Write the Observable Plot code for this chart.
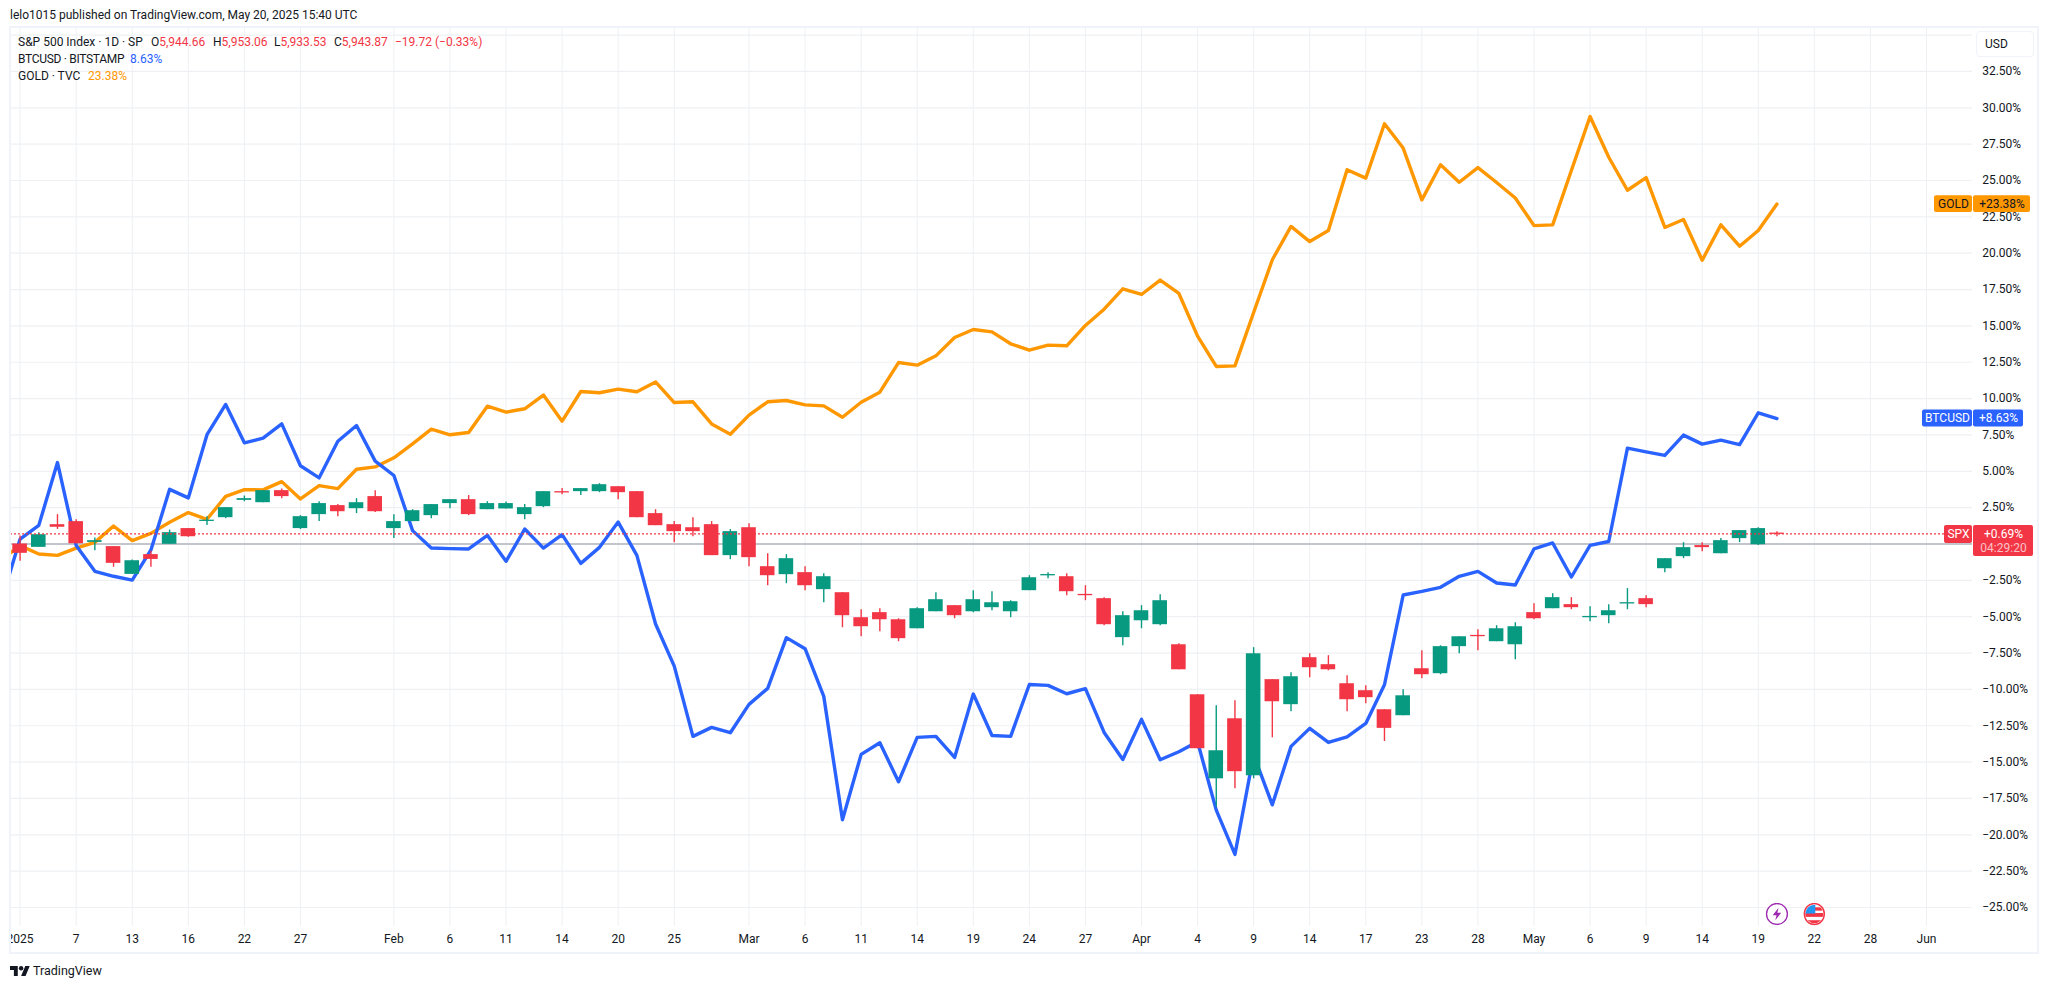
<!DOCTYPE html>
<html>
<head>
<meta charset="utf-8">
<script src="https://cdn.jsdelivr.net/npm/d3@7"></script>
<script src="https://cdn.jsdelivr.net/npm/@observablehq/plot@0.6"></script>
<style>
html,body{margin:0;padding:0;background:#fff;overflow:hidden}
body{width:2048px;height:989px;position:relative;font-family:Roboto,sans-serif;color:#131722}
#chart{position:absolute;left:0;top:0}
.txt{position:absolute;font-size:12px;white-space:nowrap;line-height:14px}
.box{position:absolute;box-sizing:border-box;pointer-events:none}
.r{color:#f23645}.b{color:#2962ff}.o{color:#ff9800}
.seg{position:absolute;top:0}
</style>
</head>
<body>
<div id="chart"></div>
<div class="box" style="left:0;top:27px;width:10px;height:926px;background:#fff"></div>
<div class="box" style="left:9px;top:26px;width:2030px;height:928px;border:2px solid #f0f3fa"></div>
<div class="box" style="left:1976px;top:31px;width:58px;height:26px;border:1.5px solid #f0f3fa;border-radius:4px;background:#fff"></div>
<div class="txt" style="left:1985px;top:37px;">USD</div>
<div class="txt" style="left:10px;top:8px">lelo1015 published on TradingView.com, May 20, 2025 15:40 UTC</div>
<div class="txt" style="left:18px;top:35px;width:480px;height:14px">
  <span class="seg" style="left:0">S&amp;P 500 Index · 1D · SP</span>
  <span class="seg" style="left:133px">O<span class="r">5,944.66</span></span>
  <span class="seg" style="left:195px">H<span class="r">5,953.06</span></span>
  <span class="seg" style="left:256px">L<span class="r">5,933.53</span></span>
  <span class="seg" style="left:316px">C<span class="r">5,943.87</span></span>
  <span class="seg r" style="left:377px">−19.72 (−0.33%)</span>
</div>
<div class="txt" style="left:18px;top:52px;width:200px;height:14px">
  <span class="seg" style="left:0;letter-spacing:-0.3px">BTCUSD · BITSTAMP</span>
  <span class="seg b" style="left:112px">8.63%</span>
</div>
<div class="txt" style="left:18px;top:69px;width:200px;height:14px">
  <span class="seg" style="left:0">GOLD · TVC</span>
  <span class="seg o" style="left:70px">23.38%</span>
</div>
<svg class="box" style="left:10px;top:965px" width="20" height="12" viewBox="0 4 36 18"><path fill="#131722" d="M14 22H7V11H0V4h14v18zM28 22h-8l7.5-18h8L28 22z"/><circle fill="#131722" cx="20" cy="8" r="4"/></svg>
<div class="txt" style="left:33px;top:964px;font-size:12.5px;color:#131722">TradingView</div>
<script>
// S&P 500 candles, % from the first open, bars 0..94
const spxOpen = [0,-0.23,1.33,1.54,0.11,-0.18,-2.09,-0.73,-0.02,1.06,1.56,1.81,3.0,2.84,3.67,1.06,2.02,2.64,2.43,3.26,1.06,1.54,1.95,2.78,3.05,2.36,2.41,2.02,2.57,3.58,3.6,3.6,3.94,3.6,2.09,1.33,1.12,1.33,-0.8,1.12,-1.56,-2.11,-1.97,-3.14,-3.35,-5.07,-4.72,-5.21,-5.83,-4.66,-4.24,-4.66,-4.38,-4.66,-3.21,-2.18,-2.25,-3.49,-3.76,-6.44,-5.28,-5.55,-6.93,-10.37,-16.15,-12.02,-15.94,-9.33,-11.05,-7.82,-8.3,-9.61,-10.09,-11.4,-11.81,-8.58,-8.92,-7.06,-6.31,-6.72,-6.93,-4.72,-4.45,-4.17,-5.05,-4.93,-4.1,-3.76,-1.7,-0.87,-0.11,-0.67,0.37,-0.05,0.72];
const spxHigh = [0.55,0.78,2.02,1.67,0.41,-0.18,-1.1,-0.5,0.96,1.06,1.88,2.5,3.3,3.67,3.78,1.95,2.91,2.71,3.12,3.67,2.02,2.36,2.71,3.05,3.33,2.91,2.89,2.71,3.6,3.81,3.81,4.15,3.94,3.6,2.36,1.54,1.81,1.54,0.99,1.4,-0.67,-0.73,-1.56,-2.04,-3.35,-4.52,-4.45,-5.14,-4.38,-3.35,-4.24,-3.21,-3.28,-3.9,-2.18,-1.97,-2.04,-2.87,-3.69,-4.66,-4.24,-3.49,-6.86,-10.37,-11.12,-10.78,-7.13,-9.33,-8.85,-7.55,-7.68,-9.06,-9.75,-11.4,-10.02,-7.34,-7.0,-6.38,-5.89,-5.62,-5.41,-4.11,-3.42,-3.69,-4.31,-4.17,-3.07,-3.56,-1.01,0.09,0.09,0.37,0.92,1.12,0.85];
const spxLow = [-1.19,-0.23,1.0,0,-0.46,-1.6,-2.09,-1.6,-0.02,0.46,1.28,1.74,2.91,2.84,3.12,0.99,1.54,1.88,2.09,2.16,0.37,1.54,1.74,2.43,1.95,2.36,2.41,1.67,2.5,3.39,3.33,3.53,3.05,1.81,1.26,0.09,0.5,-0.8,-1.08,-1.56,-2.87,-2.73,-3.21,-4.04,-5.76,-6.38,-6.03,-6.72,-5.83,-4.66,-5.14,-4.72,-4.59,-5.07,-3.21,-2.39,-3.56,-3.9,-5.62,-7.0,-5.83,-5.62,-8.65,-14.08,-18.1,-16.83,-16.15,-13.33,-11.54,-9.2,-8.72,-11.54,-10.99,-13.58,-11.81,-9.27,-8.99,-7.55,-7.34,-6.72,-7.96,-5.21,-4.45,-4.52,-5.34,-5.48,-4.52,-4.38,-1.97,-1.01,-0.53,-0.67,0.09,-0.11,0.5];
const spxClose = [-0.64,0.64,1.15,0.02,0.23,-1.33,-1.15,-1.06,0.78,0.5,1.63,2.5,3.12,3.67,3.26,1.88,2.78,2.22,2.84,2.22,1.54,2.29,2.71,3.05,2.02,2.78,2.78,2.5,3.6,3.53,3.81,4.08,3.53,1.81,1.26,0.85,0.85,-0.8,0.85,-0.94,-2.18,-1.01,-2.87,-2.25,-4.93,-5.69,-5.21,-6.51,-4.45,-3.83,-4.93,-3.83,-4.04,-3.97,-2.32,-2.11,-3.28,-3.53,-5.55,-4.93,-4.59,-3.9,-8.65,-14.08,-14.22,-15.66,-7.55,-10.85,-9.13,-8.51,-8.65,-10.71,-10.57,-12.68,-10.44,-8.99,-7.06,-6.38,-6.35,-5.83,-5.69,-5.14,-3.69,-4.38,-5.0,-4.59,-4.06,-4.17,-1.01,-0.25,-0.25,0.23,0.92,1.06,0.69];
// Comparison lines, % change, bars -1..94
const btc = [-3.9,0.34,1.28,5.6,-0.1,-1.88,-2.22,-2.48,-0.41,3.76,3.17,7.52,9.6,6.96,7.28,8.26,5.38,4.55,7.07,8.15,5.7,4.71,0.92,-0.28,-0.32,-0.34,0.6,-1.19,1.03,-0.28,0.64,-1.33,-0.23,1.51,-0.78,-5.5,-8.4,-13.23,-12.61,-12.98,-11.03,-9.93,-6.44,-7.2,-10.48,-18.97,-14.47,-13.67,-16.35,-13.3,-13.23,-14.68,-10.32,-13.17,-13.23,-9.66,-9.72,-10.3,-9.95,-12.96,-14.82,-12.06,-14.84,-14.29,-13.6,-18.3,-21.35,-14.5,-17.94,-13.92,-12.68,-13.65,-13.26,-12.34,-9.68,-3.51,-3.26,-2.98,-2.22,-1.88,-2.68,-2.82,-0.34,0.07,-2.27,-0.09,0.17,6.59,6.34,6.09,7.49,6.87,7.14,6.84,9.02,8.63];
const gold = [-1.08,-0.11,-0.69,-0.78,-0.28,0.11,1.24,0.23,0.73,1.49,2.16,1.7,3.28,3.74,3.72,4.29,3.1,4.01,3.81,5.14,5.3,5.93,6.89,7.9,7.51,7.67,9.48,9.07,9.3,10.24,8.45,10.49,10.4,10.65,10.47,11.15,9.73,9.78,8.26,7.55,8.86,9.78,9.87,9.57,9.5,8.72,9.75,10.44,12.48,12.3,12.94,14.2,14.75,14.59,13.77,13.33,13.68,13.63,15.03,16.15,17.55,17.16,18.15,17.23,14.3,12.21,12.25,15.92,19.55,21.84,20.8,21.56,25.74,25.16,28.9,27.23,23.67,26.08,24.88,25.89,24.86,23.8,21.9,21.95,25.69,29.4,26.6,24.33,25.2,21.77,22.32,19.52,21.95,20.48,21.56,23.38];
// Axis ticks
const tickBars = [0,3,6,9,12,15,20,23,26,29,32,35,39,42,45,48,51,54,57,60,63,66,69,72,75,78,81,84,87,90,93,96,99,102];
const tickLabels = ["2025","7","13","16","22","27","Feb","6","11","14","20","25","Mar","6","11","14","19","24","27","Apr","4","9","14","17","23","28","May","6","9","14","19","22","28","Jun"];
const gridValues = [35,32.5,30,27.5,25,22.5,20,17.5,15,12.5,10,7.5,5,2.5,0,-2.5,-5,-7.5,-10,-12.5,-15,-17.5,-20,-22.5,-25];
const labelValues = [32.5,30,27.5,25,22.5,20,17.5,15,12.5,10,7.5,5,2.5,-2.5,-5,-7.5,-10,-12.5,-15,-17.5,-20,-22.5,-25];
const lastSpx = 0.69, lastBtc = 8.63, lastGold = 23.38;

const GREEN = "#089981", RED = "#f23645", BLUE = "#2962ff", ORANGE = "#ff9800";
const FONT = "Roboto, sans-serif";

const candles = spxOpen.map((o, i) => ({i, o, h: spxHigh[i], l: spxLow[i], c: spxClose[i]}));
const btcPts = btc.map((v, k) => ({i: k - 1, v}));
const goldPts = gold.map((v, k) => ({i: k - 1, v}));

// pixel helpers for the tags that sit in the price-axis gutter
const X0 = 19.6, BAR = 18.69, Y0 = 543.5, PCT = 14.54;
const ix = px => (px - X0) / BAR;
const py = px => (Y0 - px) / PCT;
const colour = d => d.c >= d.o ? GREEN : RED;

const tags = [
  {name:"GOLD",  value:"+23.38%", v:lastGold, fill:ORANGE, ink:"#131722", a:1934, b:1972, c:1973, d:2030, up:8.4, down:8.4},
  {name:"BTCUSD",value:"+8.63%",  v:lastBtc,  fill:BLUE,   ink:"#ffffff", a:1922, b:1972, c:1973, d:2023, up:8.4, down:8.4},
  {name:"SPX",   value:"+0.69%",  v:lastSpx,  fill:RED,    ink:"#ffffff", a:1944, b:1972, c:1973, d:2033, up:8.5, down:9.5, extra:22.5}
];

const svg = e => "data:image/svg+xml," + encodeURIComponent(e);
const boltIcon = svg(`<svg xmlns="http://www.w3.org/2000/svg" viewBox="0 0 24 24"><ellipse cx="12" cy="12" rx="10.9" ry="10.9" fill="#fff" stroke="#9c27b0" stroke-width="1.4"/><path d="M13.6 5.5 L7.6 13.4 h4 l-1.4 5.2 l6.2-7.9 h-4 z" fill="#9c27b0"/></svg>`);
const flagIcon = svg(`<svg xmlns="http://www.w3.org/2000/svg" viewBox="0 0 24 24"><defs><clipPath id="c"><ellipse cx="12" cy="12" rx="9.4" ry="9.6"/></clipPath></defs><g clip-path="url(#c)"><rect width="24" height="24" fill="#fff"/><rect x="2" y="11" width="20" height="4" fill="#f23645"/><rect x="2" y="18.5" width="20" height="4" fill="#f23645"/><rect x="12" y="5" width="10" height="3.5" fill="#f23645"/><rect x="2" y="2" width="11" height="9.5" fill="#2196f3"/></g><ellipse cx="12" cy="12" rx="10.4" ry="10.9" fill="none" stroke="#f23645" stroke-width="1.5"/></svg>`);

const chart = Plot.plot({
  width: 2048, height: 989,
  marginLeft: 10, marginRight: 76, marginTop: 27, marginBottom: 63,
  style: {fontFamily: FONT, background: "transparent"},
  x: {type: "linear", domain: [ix(10), ix(1972)], axis: null},
  y: {type: "linear", domain: [py(926), py(27)], axis: null},
  marks: [
    Plot.ruleX(tickBars, {x: d => d, stroke: "#eef0f3", strokeWidth: 1}),
    Plot.ruleY(gridValues, {y: d => d, stroke: "#eef0f3", strokeWidth: 1.2}),
    Plot.ruleY([0], {stroke: "#b2b5be", strokeWidth: 1.5}),
    Plot.line(goldPts, {x: "i", y: "v", stroke: ORANGE, strokeWidth: 3.4, clip: "frame", curve: "linear", strokeLinejoin: "round"}),
    Plot.line(btcPts, {x: "i", y: "v", stroke: BLUE, strokeWidth: 3.4, clip: "frame", curve: "linear", strokeLinejoin: "round"}),
    Plot.ruleX(candles, {x: "i", y1: "l", y2: "h", stroke: colour, strokeWidth: 1.4}),
    Plot.rect(candles, {x1: d => d.i - 0.39, x2: d => d.i + 0.39, y1: d => Math.abs(d.o - d.c) < 0.09 ? (d.o + d.c) / 2 - 0.045 : d.o, y2: d => Math.abs(d.o - d.c) < 0.09 ? (d.o + d.c) / 2 + 0.045 : d.c, fill: colour}),
    Plot.ruleY([lastSpx], {stroke: RED, strokeWidth: 1.2, strokeDasharray: "2 2"}),
    Plot.axisY(labelValues, {anchor: "right", tickSize: 0, tickPadding: 9.7, fontSize: 12, fill: "#131722", label: null, tickFormat: d => (d < 0 ? "−" : "") + Math.abs(d).toFixed(2) + "%"}),
    Plot.axisX(tickBars, {anchor: "bottom", tickSize: 0, tickPadding: 8, fontSize: 12, fill: "#131722", label: null, tickFormat: d => tickLabels[tickBars.indexOf(d)]}),
    Plot.rect(tags, {x1: d => ix(d.a), x2: d => ix(d.b), y1: d => d.v + d.up / PCT, y2: d => d.v - d.down / PCT, fill: "fill", rx: 2}),
    Plot.rect(tags, {x1: d => ix(d.c), x2: d => ix(d.d), y1: d => d.v + d.up / PCT, y2: d => d.v - (d.extra || d.down) / PCT, fill: "fill", rx: 2}),
    Plot.text(tags, {x: d => ix((d.a + d.b) / 2), y: "v", text: "name", fill: "ink", fontSize: 12}),
    Plot.text(tags, {x: d => ix((d.c + d.d) / 2), y: "v", text: "value", fill: "ink", fontSize: 12}),
    Plot.text(["04:29:20"], {x: ix(2003), y: py(547.8), text: d => d, fill: "#fff", fillOpacity: 0.7, fontSize: 12}),
    Plot.image([94], {x: d => d, y: py(913.5), src: boltIcon, width: 23, height: 23}),
    Plot.image([96], {x: d => d, y: py(913.5), src: flagIcon, width: 23, height: 23})
  ]
});
document.getElementById("chart").appendChild(chart);
</script>
</body>
</html>
